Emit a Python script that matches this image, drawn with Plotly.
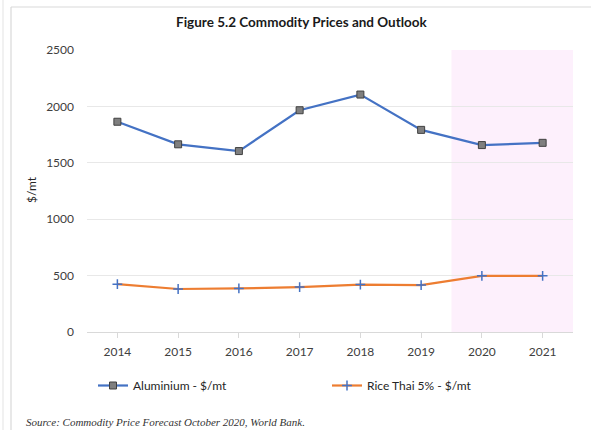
import plotly.graph_objects as go

years = ["2014", "2015", "2016", "2017", "2018", "2019", "2020", "2021"]
aluminium = [1864, 1664, 1604, 1966, 2105, 1792, 1657, 1677]
rice = [424, 381, 386, 398, 420, 416, 498, 498]
forecast_years = ["2020", "2021"]
y_ticks = [0, 500, 1000, 1500, 2000, 2500]

W, H = 591, 430
ML, MR, MT, MB = 87, 18, 50, 98
PW, PH = W - ML - MR, H - MT - MB

def px_x(px):
    return (px - ML) / PW

def px_y(py):
    return 1 - (py - MT) / PH

idx = list(range(len(years)))
fs = years.index(forecast_years[0])

fig = go.Figure()
fig.add_trace(go.Scatter(
    x=idx, y=aluminium, name="Aluminium - $/mt", mode="lines+markers",
    line=dict(color="#4472C4", width=2.2),
    marker=dict(symbol="square", size=7, color="#7F7F7F",
                line=dict(color="#404040", width=1)),
))
fig.add_trace(go.Scatter(
    x=idx, y=rice, name="Rice Thai 5% - $/mt", mode="lines+markers",
    line=dict(color="#ED7D31", width=2.2),
    marker=dict(symbol="cross-thin", size=7, color="#4472C4",
                line=dict(color="#4472C4", width=1.5)),
))

shapes = [
    dict(type="rect", xref="x", yref="paper", x0=fs - 0.5, x1=len(years) - 0.5,
         y0=0, y1=1, fillcolor="#FDF0FC", line=dict(width=0), layer="below"),
    dict(type="line", xref="paper", yref="paper", x0=px_x(11), x1=px_x(W + 5),
         y0=px_y(7), y1=px_y(7), line=dict(color="#D9D9D9", width=1.2)),
    dict(type="line", xref="paper", yref="paper", x0=px_x(11), x1=px_x(11),
         y0=px_y(7), y1=px_y(H + 5), line=dict(color="#D9D9D9", width=1.2)),
    dict(type="line", xref="paper", yref="paper", x0=px_x(3), x1=px_x(3),
         y0=px_y(0), y1=px_y(H + 5), line=dict(color="#E3E3E3", width=1)),
]

annotations = [
    dict(text="<b>Figure 5.2 Commodity Prices and Outlook</b>", xref="paper", yref="paper",
         x=px_x(302), y=px_y(22), xanchor="center", yanchor="middle", showarrow=False,
         font=dict(family="Lato", size=13.5, color="#1a1a1a")),
    dict(text="$/mt", xref="paper", yref="paper", x=px_x(31), y=px_y(190),
         xanchor="center", yanchor="middle", textangle=-90, showarrow=False,
         font=dict(family="Lato", size=12, color="#262626")),
    dict(text="<i>Source: Commodity Price Forecast October 2020, World Bank.</i>",
         xref="paper", yref="paper", x=px_x(24), y=px_y(422), xanchor="left",
         yanchor="middle", showarrow=False,
         font=dict(family="Liberation Serif", size=11, color="#333333")),
]

fig.update_layout(
    width=W, height=H,
    margin=dict(l=ML, r=MR, t=MT, b=MB, autoexpand=False),
    paper_bgcolor="white", plot_bgcolor="white",
    showlegend=True,
    legend=dict(orientation="h", x=px_x(93), y=px_y(371), xanchor="left", yanchor="top",
                font=dict(family="Lato", size=12, color="#262626"),
                itemwidth=30, entrywidth=189, bgcolor="rgba(0,0,0,0)"),
    shapes=shapes, annotations=annotations,
    font=dict(family="Lato", size=12, color="#404040"),
)
fig.update_xaxes(
    tickmode="array", tickvals=idx, ticktext=years, range=[-0.5, len(years) - 0.5],
    showgrid=False, showline=True, linecolor="#D9D9D9", linewidth=1.2,
    ticks="outside", ticklen=5, tickcolor="#D9D9D9",
    tickfont=dict(family="Lato", size=12, color="#404040"), ticklabelstandoff=3,
    zeroline=False,
)
fig.update_yaxes(
    range=[0, 2500], tickvals=y_ticks, showgrid=True, gridcolor="#E8E8E8", gridwidth=1.2,
    zeroline=False, showline=False, ticks="", ticklabelstandoff=12,
    tickfont=dict(family="Lato", size=12, color="#404040"),
)
fig.write_html("out.html", config={"displayModeBar": False},
               post_script="document.body.style.margin='0';document.body.style.overflow='hidden';")
